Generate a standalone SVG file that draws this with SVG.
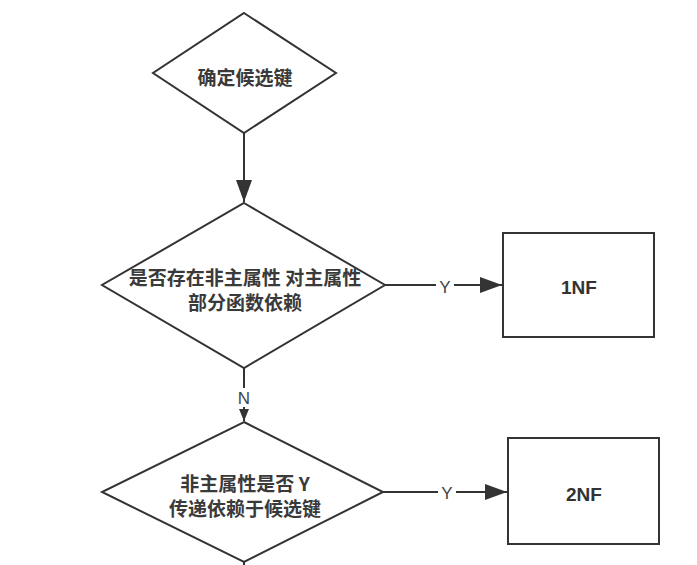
<svg xmlns="http://www.w3.org/2000/svg" width="697" height="565" viewBox="0 0 697 565">
<style>
.shape{fill:#fff;stroke:#333;stroke-width:2}
.edge{fill:none;stroke:#333;stroke-width:2}
.t{font-family:"Noto Sans CJK SC","Noto Sans",sans-serif;font-size:19px;font-weight:bold;fill:#3a3a3a;text-anchor:middle;dominant-baseline:central}
.b{font-family:"Liberation Sans","Noto Sans",sans-serif;font-size:19px;font-weight:bold;fill:#333;text-anchor:middle;dominant-baseline:central}
.lbl{font-family:"Liberation Sans","Noto Sans",sans-serif;font-size:17px;fill:#444;text-anchor:middle;dominant-baseline:central}
</style>
<defs>
<marker id="ah" markerWidth="12" markerHeight="10" refX="12" refY="5" orient="auto" markerUnits="userSpaceOnUse">
<path d="M0,0 L12,5 L0,10 Z" fill="#333"/>
</marker>
<marker id="ahl" markerWidth="22" markerHeight="16" refX="22" refY="8" orient="auto" markerUnits="userSpaceOnUse">
<path d="M0,0 L22,8 L0,16 Z" fill="#333"/>
</marker>
</defs>
<rect width="697" height="565" fill="#fff"/>
<g id="connectors">
<line class="edge" x1="244" y1="133" x2="244" y2="202" marker-end="url(#ahl)"/>
<line class="edge" x1="385" y1="285" x2="502" y2="285" marker-end="url(#ahl)"/>
<rect x="436" y="276" width="18" height="18" fill="#fff"/>
<text class="lbl" x="445" y="287">Y</text>
<line class="edge" x1="244" y1="368" x2="244" y2="421" marker-end="url(#ah)"/>
<rect x="235" y="388" width="18" height="19" fill="#fff"/>
<text class="lbl" x="244" y="398">N</text>
<line class="edge" x1="383" y1="492" x2="507" y2="492" marker-end="url(#ahl)"/>
<rect x="438" y="483" width="18" height="18" fill="#fff"/>
<text class="lbl" x="447" y="493">Y</text>
<line class="edge" x1="244" y1="562" x2="244" y2="570"/>
</g>
<g id="n1">
<polygon class="shape" points="244,13 336,73 244,133 153,73"/>
<text class="t" x="245" y="76">确定候选键</text>
</g>
<g id="n2">
<polygon class="shape" points="244,203 385,285 244,368 102,285"/>
<text class="t" x="245" y="276">是否存在非主属性 对主属性</text>
<text class="t" x="245" y="301">部分函数依赖</text>
</g>
<g id="n3">
<rect class="shape" x="503" y="233" width="151" height="104"/>
<text class="b" x="579" y="287">1NF</text>
</g>
<g id="n4">
<polygon class="shape" points="244,422 383,492 244,562 102,492"/>
<text class="t" x="245" y="482">非主属性是否 Y</text>
<text class="t" x="245" y="507">传递依赖于候选键</text>
</g>
<g id="n5">
<rect class="shape" x="508" y="438" width="151" height="106"/>
<text class="b" x="584" y="494">2NF</text>
</g>
</svg>
